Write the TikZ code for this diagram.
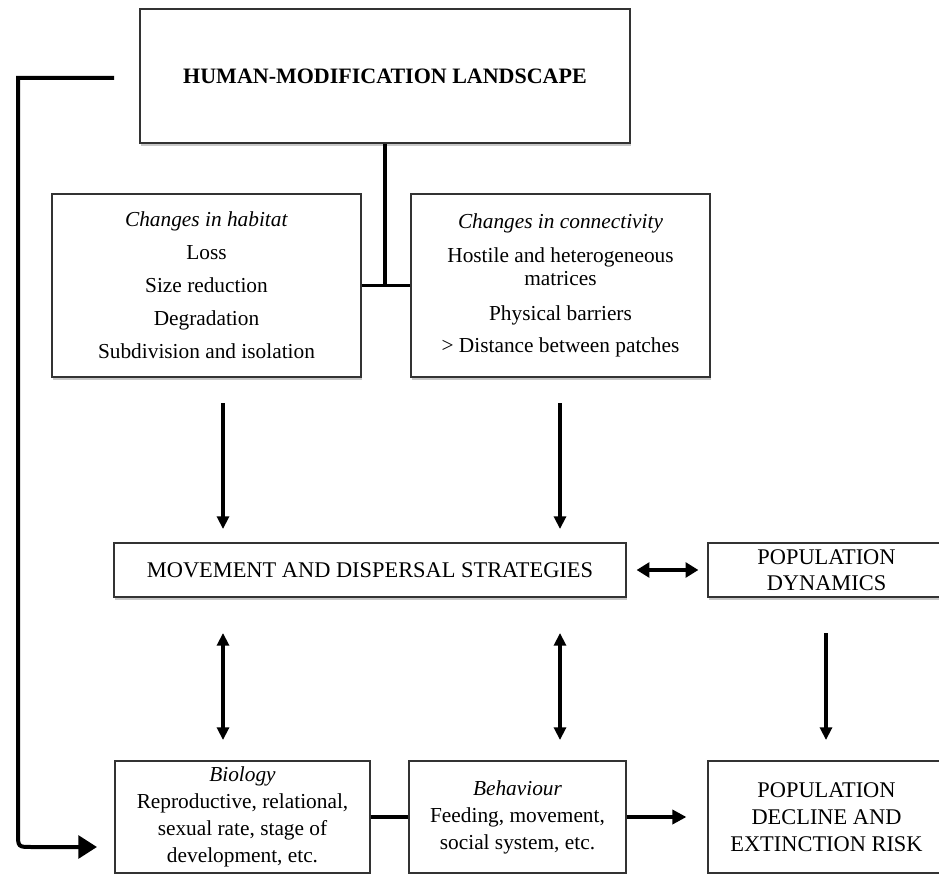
\documentclass[tikz,border=0pt]{standalone}
\usepackage{fontspec}
\setmainfont{Liberation Serif}
\usetikzlibrary{arrows.meta,shadows}
\begin{document}
\begin{tikzpicture}[x=0.75pt,y=-0.75pt,
  box/.style={draw=black!80, line width=0.9pt, fill=white, inner sep=0pt, align=center,
    drop shadow={shadow xshift=0.9pt, shadow yshift=-2.4pt, opacity=0.3, fill=black!70}},
  small/.style={font=\fontsize{16}{20.25}\selectfont},
  caps/.style={font=\fontsize{16.8}{20.25}\selectfont},
  arr/.style={line width=2.3pt, -{Triangle[length=9.5pt,width=9pt]}},
  darr/.style={line width=2.3pt, {Triangle[length=9.5pt,width=9pt]}-{Triangle[length=9.5pt,width=9pt]}},
  harr/.style={line width=2.4pt, {Triangle[length=9.5pt,width=11pt]}-{Triangle[length=9.5pt,width=11pt]}},
  thickarr/.style={line width=2.6pt, -{Triangle[length=10.5pt,width=10.5pt]}},
  conn/.style={line width=2.4pt},
  fb/.style={line width=3pt, -{Triangle[length=14pt,width=17pt]}}
]
\clip (0,0) rectangle (939,874);
\fill[white] (0,0) rectangle (939,874);

% boxes
\node[box, minimum width=367.5pt, minimum height=100.5pt, font=\fontsize{16.5}{20}\selectfont\bfseries]
  (top) at (385,76) {HUMAN-MODIFICATION LANDSCAPE};
\node[box, minimum width=231.75pt, minimum height=137.25pt, font=\fontsize{16}{24.75}\selectfont]
  (hab) at (206.5,285.5) {\textit{Changes in habitat}\\Loss\\Size reduction\\Degradation\\Subdivision and isolation};
\node[box, minimum width=224.25pt, minimum height=137.25pt, font=\fontsize{16}{17.25}\selectfont]
  (con) at (560.5,285.5) {\textit{Changes in connectivity}\\[8.25pt]Hostile and heterogeneous\\matrices\\[9pt]Physical barriers\\[6.75pt]> Distance between patches};
\node[box, caps, minimum width=384pt, minimum height=40.5pt] (mov) at (370,570) {MOVEMENT AND DISPERSAL STRATEGIES};
\node[box, font=\fontsize{16.8}{19.5}\selectfont, minimum width=177.75pt, minimum height=40.5pt] (pop) at (826.5,570) {POPULATION\\DYNAMICS};
\node[box, small, minimum width=191.25pt, minimum height=84pt] (bio) at (242.5,817) {\textit{Biology}\\Reproductive, relational,\\sexual rate, stage of\\development, etc.};
\node[box, small, minimum width=162.75pt, minimum height=84pt] (beh) at (517.5,817) {\textit{Behaviour}\\Feeding, movement,\\social system, etc.};
\node[box, caps, minimum width=177.75pt, minimum height=84pt] (dec) at (826.5,817) {POPULATION\\DECLINE AND\\EXTINCTION RISK};

% named coordinates for free arrow ends
\coordinate (a1s) at (223,403); \coordinate (a1e) at (223,529);
\coordinate (a2s) at (560,403); \coordinate (a2e) at (560,529);
\coordinate (b1s) at (223,633); \coordinate (b1e) at (223,740);
\coordinate (b2s) at (560,633); \coordinate (b2e) at (560,740);
\coordinate (b3s) at (826,633); \coordinate (b3e) at (826,740);
\coordinate (fbs) at (114,78); \coordinate (fbc) at (18,78);
\coordinate (fbk) at (18,847); \coordinate (fbe) at (97,847);

% connectors
\draw[conn, line width=2.8pt] (top.south) -- (top.south |- hab.east);
\draw[conn, line width=2pt] (hab.east) -- (con.west);
\draw[arr] (a1s) -- (a1e);
\draw[arr] (a2s) -- (a2e);
\draw[harr] ([xshift=7.5pt]mov.east) -- ([xshift=-6.75pt]pop.west);
\draw[darr] (b1s) -- (b1e);
\draw[darr] (b2s) -- (b2e);
\draw[arr] (b3s) -- (b3e);
\draw[conn] (bio.east) -- (beh.west);
\draw[thickarr] (beh.east) -- ([xshift=-15.75pt]dec.west);
\draw[fb] (fbs) -- (fbc) -- ([yshift=10.5pt]fbk) .. controls (fbk) .. ([xshift=10.5pt]fbk) -- (fbe);
\end{tikzpicture}
\end{document}
